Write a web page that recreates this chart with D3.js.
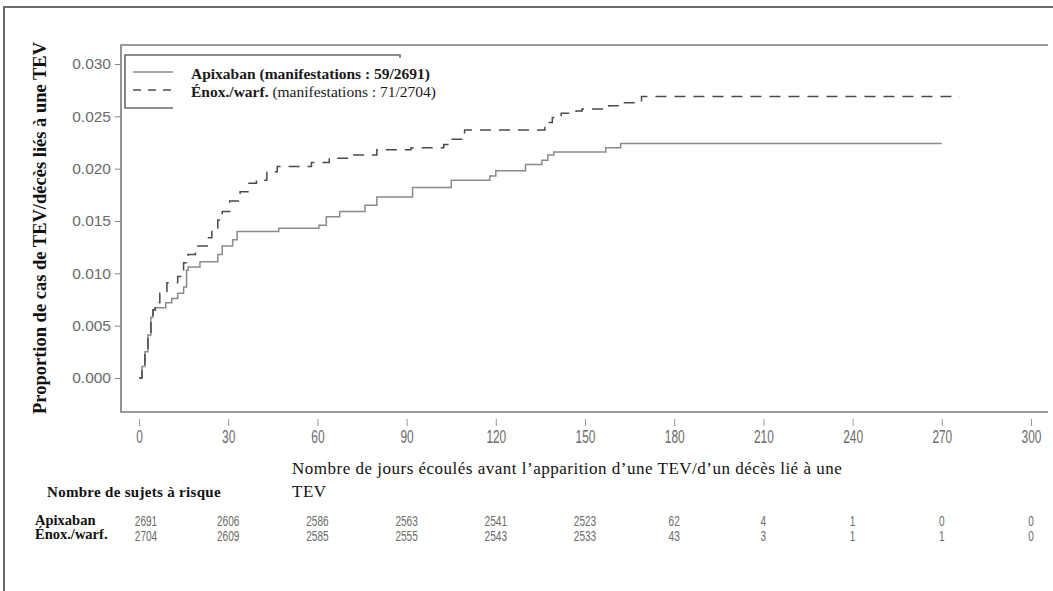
<!DOCTYPE html>
<html>
<head>
<meta charset="utf-8">
<script src="https://cdn.jsdelivr.net/npm/d3@7"></script>
<style>
  body { margin: 0; background: #fff; }
  svg { display: block; }
</style>
</head>
<body>
<div id="chart"></div>
<script>
// step points (day, cumulative proportion)
const apixDays = [0, 1, 2, 3, 4, 4.7, 5.5, 9, 11, 13, 15, 16, 16.5, 20.5, 26.5, 28, 31.5, 33, 47, 60.5, 63, 67.5, 76, 80, 92, 105, 118, 120, 130, 135.5, 137.5, 139.5, 157, 162, 270];
const apixRisk = [0, 0.0011, 0.0025, 0.0041, 0.0058, 0.0065, 0.0067, 0.0072, 0.0076, 0.0081, 0.0087, 0.0103, 0.0106, 0.0111, 0.0118, 0.0126, 0.0132, 0.0140, 0.0143, 0.0146, 0.0154, 0.0159, 0.0165, 0.0173, 0.0182, 0.0189, 0.0193, 0.0198, 0.0204, 0.0208, 0.0213, 0.0216, 0.0220, 0.0224, 0.0224];

const enoxDays = [0, 1, 2, 3, 4, 4.7, 5.4, 7, 9.4, 13, 15, 16.5, 19, 23, 24.5, 26.5, 28, 30.5, 34, 37, 39.5, 43, 46.5, 58, 64, 71, 80, 91.5, 102.5, 104.5, 109.5, 136.5, 139, 142, 147, 149, 158, 162, 169, 276];
const enoxRisk = [0, 0.0011, 0.0025, 0.0041, 0.0059, 0.0065, 0.0072, 0.0081, 0.0091, 0.0097, 0.0110, 0.0118, 0.0126, 0.0134, 0.0142, 0.0151, 0.0159, 0.0169, 0.0178, 0.0186, 0.0189, 0.0197, 0.0202, 0.0206, 0.0210, 0.0213, 0.0218, 0.0220, 0.0223, 0.0228, 0.0237, 0.0244, 0.0249, 0.0253, 0.0255, 0.0257, 0.0260, 0.0263, 0.0269, 0.0269];

const xTicks = [0, 30, 60, 90, 120, 150, 180, 210, 240, 270, 300];
const yTicks = [0, 0.005, 0.010, 0.015, 0.020, 0.025, 0.030];

// number at risk
const riskDays = [0, 30, 60, 90, 120, 150, 180, 210, 240, 270, 300];
const apixAtRisk = [2691, 2606, 2586, 2563, 2541, 2523, 62, 4, 1, 0, 0];
const enoxAtRisk = [2704, 2609, 2585, 2555, 2543, 2533, 43, 3, 1, 1, 0];

const legendLabels = [
  { bold: "Apixaban (manifestations : 59/2691)", normal: "" },
  { bold: "Énox./warf.", normal: " (manifestations : 71/2704)" }
];

const width = 1053, height = 591;
const serif = "'Liberation Serif', 'Times New Roman', serif";
const sans = "'Liberation Sans', Arial, sans-serif";

const svg = d3.select("#chart").append("svg")
  .attr("width", width)
  .attr("height", height);

// outer frame (top + left only)
svg.append("path")
  .attr("d", "M4,591 L4,7 L1053,7")
  .attr("fill", "none")
  .attr("stroke", "#6a6a6a")
  .attr("stroke-width", 2);

// scales
const x = d3.scaleLinear().domain([0, 300]).range([139, 1031]);
const y = d3.scaleLinear().domain([0, 0.030]).range([378, 64]);

const plot = { left: 121, right: 1048, top: 45, bottom: 412 };

// plot frame: top, left, bottom
svg.append("path")
  .attr("d", `M${plot.right},${plot.top} L${plot.left},${plot.top} L${plot.left},${plot.bottom} L${plot.right},${plot.bottom}`)
  .attr("fill", "none")
  .attr("stroke", "#7a7a7a")
  .attr("stroke-width", 1.6);

// y axis
const yAxis = svg.append("g")
  .attr("transform", "translate(120,0)")
  .call(d3.axisLeft(y).tickValues(yTicks).tickFormat(d3.format(".3f")).tickSize(5).tickPadding(4));
yAxis.select(".domain").remove();
yAxis.selectAll("line").attr("stroke", "#888");
yAxis.selectAll("text")
  .attr("fill", "#6a6a6a")
  .style("font-family", sans)
  .style("font-size", "15.5px");

// x axis, condensed digits
const xAxis = svg.append("g")
  .attr("transform", "translate(0,419)")
  .call(d3.axisBottom(x).tickValues(xTicks).tickSize(7).tickPadding(5));
xAxis.select(".domain").remove();
xAxis.selectAll("line").attr("stroke", "#999");
xAxis.selectAll("text")
  .attr("fill", "#6a6a6a")
  .attr("transform", "scale(0.68,1)")
  .style("font-family", sans)
  .style("font-size", "17.5px");

// curves
const line = d3.line()
  .x(d => x(d[0]))
  .y(d => y(d[1]))
  .curve(d3.curveStepAfter);

const apixData = apixDays.map((d, i) => [d, apixRisk[i]]);
const enoxData = enoxDays.map((d, i) => [d, enoxRisk[i]]);

svg.append("path")
  .datum(apixData)
  .attr("d", line)
  .attr("fill", "none")
  .attr("stroke", "#8a8a8a")
  .attr("stroke-width", 1.5);

svg.append("path")
  .datum(enoxData)
  .attr("d", line)
  .attr("fill", "none")
  .attr("stroke", "#4a4a4a")
  .attr("stroke-width", 1.5)
  .attr("stroke-dasharray", "11,8");

// legend box (partial, as in the source)
svg.append("path")
  .attr("d", "M400,58 L400,55 L125,55 L125,108 L173,108")
  .attr("fill", "none")
  .attr("stroke", "#6a6a6a")
  .attr("stroke-width", 1.6);

const legend = svg.append("g");
legend.append("line")
  .attr("x1", 133).attr("x2", 173).attr("y1", 72).attr("y2", 72)
  .attr("stroke", "#8a8a8a").attr("stroke-width", 1.5);
legend.append("line")
  .attr("x1", 133).attr("x2", 173).attr("y1", 90).attr("y2", 90)
  .attr("stroke", "#4a4a4a").attr("stroke-width", 1.5)
  .attr("stroke-dasharray", "8,7");

legendLabels.forEach((l, i) => {
  const t = legend.append("text")
    .attr("x", 191)
    .attr("y", 79 + i * 18)
    .attr("fill", "#1a1a1a")
    .style("font-family", serif)
    .style("font-size", "15.5px");
  t.append("tspan").attr("font-weight", "bold").text(l.bold);
  t.append("tspan").text(l.normal);
});

// y axis title
svg.append("text")
  .attr("transform", "translate(46,228) rotate(-90)")
  .attr("text-anchor", "middle")
  .attr("font-weight", "bold")
  .attr("fill", "#111")
  .style("font-family", serif)
  .style("font-size", "18.5px")
  .text("Proportion de cas de TEV/décès liés à une TEV");

// x axis title (two lines)
const xTitle = svg.append("text")
  .attr("fill", "#111")
  .style("font-family", serif)
  .style("font-size", "17px")
  .style("letter-spacing", "0.5px");
xTitle.append("tspan").attr("x", 292).attr("y", 474)
  .text("Nombre de jours écoulés avant l’apparition d’une TEV/d’un décès lié à une");
xTitle.append("tspan").attr("x", 292).attr("y", 497).text("TEV");

// number at risk table
svg.append("text")
  .attr("x", 47).attr("y", 497)
  .attr("font-weight", "bold")
  .attr("fill", "#111")
  .style("font-family", serif)
  .style("font-size", "15px")
  .style("letter-spacing", "0.3px")
  .text("Nombre de sujets à risque");

const rows = [
  { name: "Apixaban", values: apixAtRisk, y: 525, ny: 526 },
  { name: "Énox./warf.", values: enoxAtRisk, y: 539, ny: 541 }
];

rows.forEach(r => {
  svg.append("text")
    .attr("x", 35).attr("y", r.y)
    .attr("font-weight", "bold")
    .attr("fill", "#111")
    .style("font-family", serif)
    .style("font-size", "14.5px")
    .text(r.name);

  svg.append("g").selectAll("text")
    .data(r.values)
    .enter().append("text")
    .attr("transform", (d, i) => `translate(${x(riskDays[i]) + (i === 0 ? 7 : 0)},${r.ny}) scale(0.72,1)`)
    .attr("text-anchor", "middle")
    .attr("fill", "#6a6a6a")
    .style("font-family", sans)
    .style("font-size", "14px")
    .text(d => d);
});
</script>
</body>
</html>
